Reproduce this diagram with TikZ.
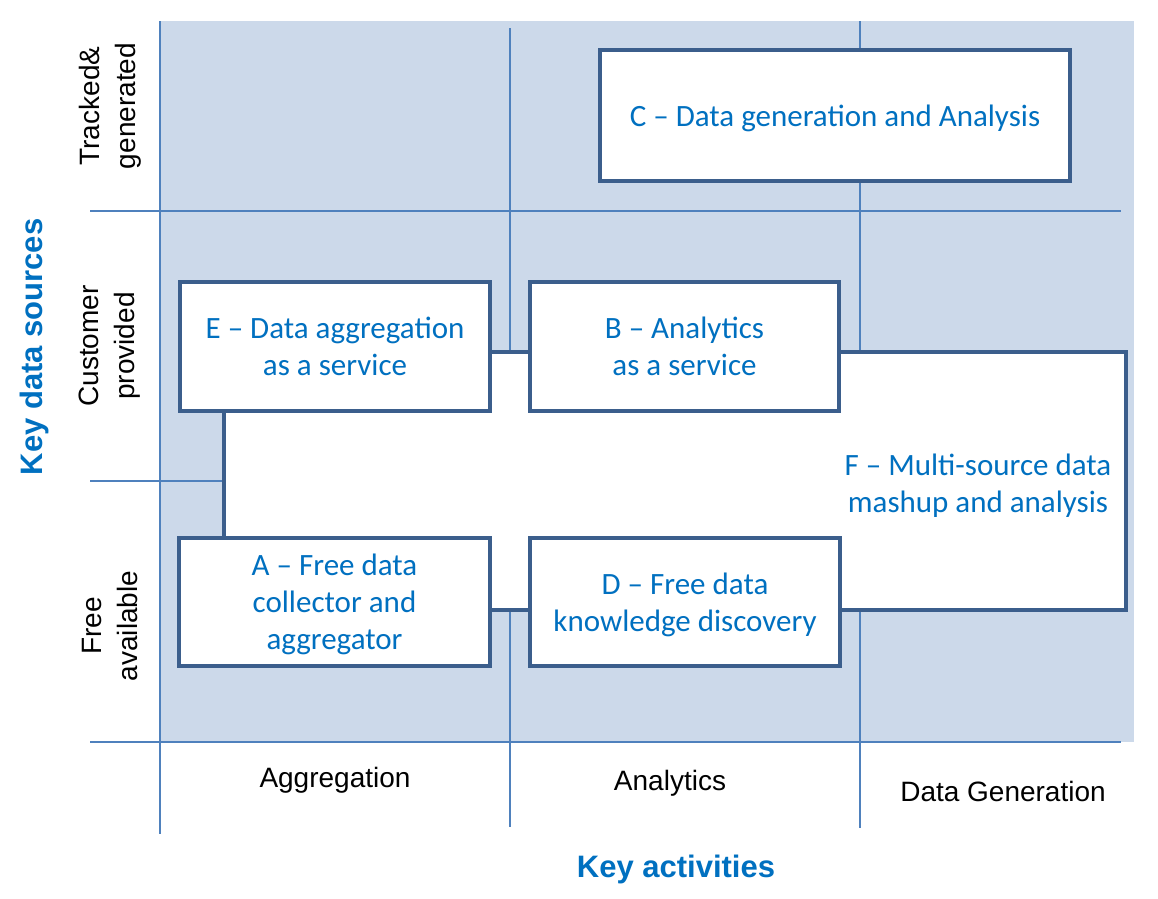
\documentclass[tikz,border=0pt]{standalone}
\usepackage{fontspec}
\setmainfont{Liberation Sans}
\newfontfamily\calib{Carlito}
\definecolor{paneblue}{HTML}{CCD9EA}
\definecolor{grid}{HTML}{4F81BD}
\definecolor{frame}{HTML}{3B5E8C}
\definecolor{txtblue}{HTML}{0070C0}

\tikzset{
  biz/.style={draw=frame,line width=4pt,fill=white,inner sep=0pt,text=txtblue,
    align=center,text depth=0pt,font=\calib\fontsize{31}{37}\selectfont},
  axis/.style={text=txtblue,font=\bfseries\fontsize{31}{36}\selectfont},
  cat/.style={font=\fontsize{28}{36}\selectfont,align=center}
}

\begin{document}
\begin{tikzpicture}[x=1pt,y=-1pt]
  \useasboundingbox (0,0) rectangle (1158,898);
  % shaded matrix area and grid
  \fill[paneblue] (160,21) rectangle (1134,742);
  \begin{scope}[grid,line width=1.5pt]
    \draw (160,21)--(160,834);
    \draw (510,28)--(510,827);
    \draw (860,21)--(860,828);
    \foreach \y in {211,742}{\draw (90,\y)--(1121,\y);}
    \draw (90,481)--(224,481);
  \end{scope}
  % business models
  \node[biz,minimum width=902pt,minimum height=258pt] (F) at (675,481) {};
  \node[text=txtblue,align=center,text depth=0pt,font=\calib\fontsize{31}{37}\selectfont] (Ftext) at (978,483)
    {F \textendash{} Multi-source data\\mashup and analysis};
  \node[biz,minimum width=470pt,minimum height=131pt] (C) at (835,115.5) {C \textendash{} Data generation and Analysis};
  \node[biz,minimum width=310pt,minimum height=129pt] (E) at (335,346.5) {E \textendash{} Data aggregation\\as a service};
  \node[biz,minimum width=309pt,minimum height=129pt] (B) at (684.5,346.5) {B \textendash{} Analytics\\as a service};
  \node[biz,minimum width=311pt,minimum height=128pt] (A) at (334.5,602) {A \textendash{} Free data\\collector and\\aggregator};
  \node[biz,minimum width=310pt,minimum height=128pt] (D) at (685,602) {D \textendash{} Free data\\knowledge discovery};
  % axes
  \node[cat] (agg) at (335,780) {Aggregation};
  \node[cat] (ana) at (670,783) {Analytics};
  \node[cat] (gen) at (1003,791) {Data Generation};
  \node[axis] (act) at (676,869) {Key activities};
  \node[cat,rotate=90] (trk) at (110,106) {Tracked\&\\generated};
  \node[cat,rotate=90] (cus) at (110,346) {Customer\\provided};
  \node[cat,rotate=90] (fre) at (110,626) {Free\\available};
  \node[axis,rotate=90] (src) at (34,347) {Key data sources};
\end{tikzpicture}
\end{document}
